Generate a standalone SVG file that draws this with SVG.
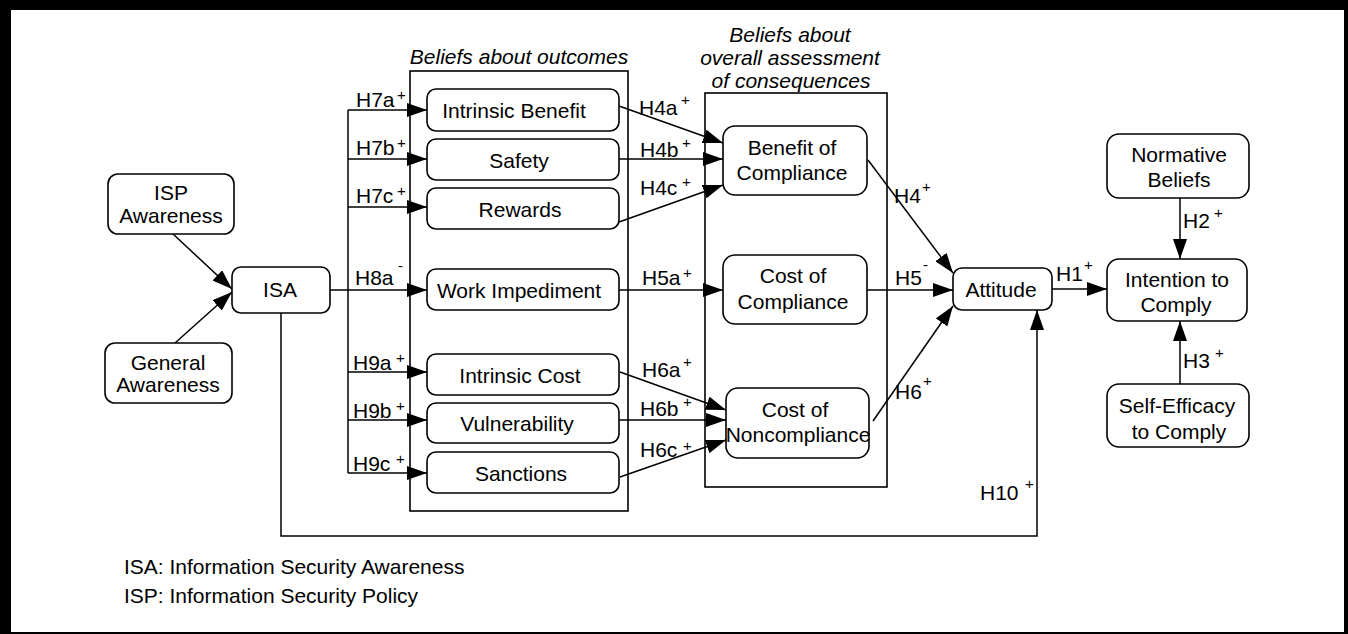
<svg xmlns="http://www.w3.org/2000/svg" width="1348" height="634" viewBox="0 0 1348 634">
<style>
.node{fill:#fff;stroke:#000;stroke-width:1.6}
.grp{fill:none;stroke:#000;stroke-width:1.6}
.t{font-family:"Liberation Sans",Arial,sans-serif;font-size:21px;fill:#000;text-anchor:middle}
.gl{font-family:"Liberation Sans",Arial,sans-serif;font-size:21px;font-style:italic;fill:#000;text-anchor:middle}
.lb{font-family:"Liberation Sans",Arial,sans-serif;font-size:21px;fill:#000}
.sp{font-family:"Liberation Sans",Arial,sans-serif;font-size:15px;fill:#000}
.c{fill:none;stroke:#000;stroke-width:1.5}
</style>
<defs>
<marker id="ah" markerUnits="userSpaceOnUse" markerWidth="20" markerHeight="14" refX="20" refY="7" orient="auto">
<path d="M0,0 L20,7 L0,14 z" fill="#000"/>
</marker>
</defs>
<rect x="0" y="0" width="1348" height="634" fill="#fff"/>
<g id="frame" fill="#000">
<rect x="0" y="0" width="1348" height="10"/>
<rect x="0" y="0" width="11" height="634"/>
<rect x="1344" y="0" width="4" height="634"/>
<rect x="0" y="632" width="1348" height="2"/>
</g>
<g id="group-outcomes">
<rect class="grp" x="410" y="71" width="218" height="440"/>
<text class="gl" x="519" y="64">Beliefs about outcomes</text>
</g>
<g id="group-assessment">
<rect class="grp" x="705" y="93" width="182" height="394"/>
<text class="gl" x="790" y="42">Beliefs about</text>
<text class="gl" x="790" y="65">overall assessment</text>
<text class="gl" x="791" y="88">of consequences</text>
</g>
<g id="connectors">
<path class="c" d="M348,110 V473"/>
<path class="c" d="M348,110 H427" marker-end="url(#ah)"/>
<path class="c" d="M348,159 H427" marker-end="url(#ah)"/>
<path class="c" d="M348,207 H427" marker-end="url(#ah)"/>
<path class="c" d="M330,290 H427" marker-end="url(#ah)"/>
<path class="c" d="M348,372 H427" marker-end="url(#ah)"/>
<path class="c" d="M348,420 H427" marker-end="url(#ah)"/>
<path class="c" d="M348,473 H427" marker-end="url(#ah)"/>
<path class="c" d="M173,234 L232,289" marker-end="url(#ah)"/>
<path class="c" d="M175,343 L232,292" marker-end="url(#ah)"/>
<path class="c" d="M619,106 L723,143" marker-end="url(#ah)"/>
<path class="c" d="M619,159 H723" marker-end="url(#ah)"/>
<path class="c" d="M619,222 L723,185" marker-end="url(#ah)"/>
<path class="c" d="M619,290 H723" marker-end="url(#ah)"/>
<path class="c" d="M620,372 L726,410" marker-end="url(#ah)"/>
<path class="c" d="M619,420 H726" marker-end="url(#ah)"/>
<path class="c" d="M620,477 L726,440" marker-end="url(#ah)"/>
<path class="c" d="M868,160 L953,273" marker-end="url(#ah)"/>
<path class="c" d="M867,290 H953" marker-end="url(#ah)"/>
<path class="c" d="M873,421 L953,306" marker-end="url(#ah)"/>
<path class="c" d="M1052,289 H1107" marker-end="url(#ah)"/>
<path class="c" d="M1180,198 V259" marker-end="url(#ah)"/>
<path class="c" d="M1180,447 V321" marker-end="url(#ah)"/>
<path class="c" d="M281,313 V536 H1037 V310" marker-end="url(#ah)"/>
</g>
<g id="labels">
<text class="lb" x="356" y="107">H7a</text><text class="sp" x="397" y="100">+</text>
<text class="lb" x="356" y="155">H7b</text><text class="sp" x="397" y="148">+</text>
<text class="lb" x="356" y="203">H7c</text><text class="sp" x="397" y="196">+</text>
<text class="lb" x="355" y="285">H8a</text><text class="sp" x="398" y="271">-</text>
<text class="lb" x="353" y="370">H9a</text><text class="sp" x="396" y="363">+</text>
<text class="lb" x="353" y="418">H9b</text><text class="sp" x="396" y="411">+</text>
<text class="lb" x="353" y="471">H9c</text><text class="sp" x="396" y="464">+</text>
<text class="lb" x="639" y="115">H4a</text><text class="sp" x="681" y="105">+</text>
<text class="lb" x="640" y="157">H4b</text><text class="sp" x="682" y="148">+</text>
<text class="lb" x="640" y="195">H4c</text><text class="sp" x="682" y="187">+</text>
<text class="lb" x="642" y="285">H5a</text><text class="sp" x="683" y="278">+</text>
<text class="lb" x="642" y="377">H6a</text><text class="sp" x="683" y="367">+</text>
<text class="lb" x="640" y="416">H6b</text><text class="sp" x="683" y="407">+</text>
<text class="lb" x="640" y="457">H6c</text><text class="sp" x="683" y="451">+</text>
<text class="lb" x="894" y="203">H4</text><text class="sp" x="922" y="192">+</text>
<text class="lb" x="895" y="285">H5</text><text class="sp" x="923" y="270">-</text>
<text class="lb" x="895" y="399">H6</text><text class="sp" x="923" y="386">+</text>
<text class="lb" x="1056" y="281">H1</text><text class="sp" x="1084" y="270">+</text>
<text class="lb" x="1183" y="228">H2</text><text class="sp" x="1214" y="218">+</text>
<text class="lb" x="1183" y="368">H3</text><text class="sp" x="1215" y="358">+</text>
<text class="lb" x="980" y="500">H10</text><text class="sp" x="1025" y="489">+</text>
</g>
<g id="isp-awareness"><rect class="node" x="108" y="174" width="126" height="60" rx="10"/><text class="t" x="171" y="200">ISP</text><text class="t" x="171" y="223">Awareness</text></g>
<g id="general-awareness"><rect class="node" x="105" y="343" width="127" height="60" rx="10"/><text class="t" x="168" y="370">General</text><text class="t" x="168" y="392">Awareness</text></g>
<g id="isa"><rect class="node" x="232" y="267" width="98" height="46" rx="9"/><text class="t" x="280" y="297">ISA</text></g>
<g id="intrinsic-benefit"><rect class="node" x="427" y="89" width="192" height="42" rx="9"/><text class="t" x="514" y="118">Intrinsic Benefit</text></g>
<g id="safety"><rect class="node" x="427" y="139" width="192" height="41" rx="9"/><text class="t" x="519" y="168">Safety</text></g>
<g id="rewards"><rect class="node" x="427" y="188" width="192" height="41" rx="9"/><text class="t" x="520" y="217">Rewards</text></g>
<g id="work-impediment"><rect class="node" x="427" y="269" width="192" height="41" rx="9"/><text class="t" x="519" y="298">Work Impediment</text></g>
<g id="intrinsic-cost"><rect class="node" x="427" y="354" width="192" height="41" rx="9"/><text class="t" x="520" y="383">Intrinsic Cost</text></g>
<g id="vulnerability"><rect class="node" x="427" y="403" width="192" height="40" rx="9"/><text class="t" x="517" y="431">Vulnerability</text></g>
<g id="sanctions"><rect class="node" x="427" y="452" width="192" height="41" rx="9"/><text class="t" x="521" y="481">Sanctions</text></g>
<g id="benefit-of-compliance"><rect class="node" x="723" y="126" width="144" height="69" rx="12"/><text class="t" x="792" y="155">Benefit of</text><text class="t" x="792" y="180">Compliance</text></g>
<g id="cost-of-compliance"><rect class="node" x="723" y="255" width="144" height="69" rx="12"/><text class="t" x="793" y="283">Cost of</text><text class="t" x="793" y="309">Compliance</text></g>
<g id="cost-of-noncompliance"><rect class="node" x="726" y="388" width="143" height="70" rx="12"/><text class="t" x="795" y="417">Cost of</text><text class="t" x="798" y="442">Noncompliance</text></g>
<g id="attitude"><rect class="node" x="953" y="268" width="99" height="42" rx="9"/><text class="t" x="1001" y="297">Attitude</text></g>
<g id="normative-beliefs"><rect class="node" x="1107" y="134" width="142" height="64" rx="12"/><text class="t" x="1179" y="162">Normative</text><text class="t" x="1179" y="187">Beliefs</text></g>
<g id="intention-to-comply"><rect class="node" x="1107" y="259" width="140" height="62" rx="12"/><text class="t" x="1177" y="287">Intention to</text><text class="t" x="1176" y="312">Comply</text></g>
<g id="self-efficacy"><rect class="node" x="1107" y="384" width="142" height="63" rx="12"/><text class="t" x="1177" y="413">Self-Efficacy</text><text class="t" x="1179" y="439">to Comply</text></g>
<g id="legend">
<text class="lb" x="124" y="574">ISA: Information Security Awareness</text>
<text class="lb" x="124" y="603">ISP: Information Security Policy</text>
</g>
</svg>
